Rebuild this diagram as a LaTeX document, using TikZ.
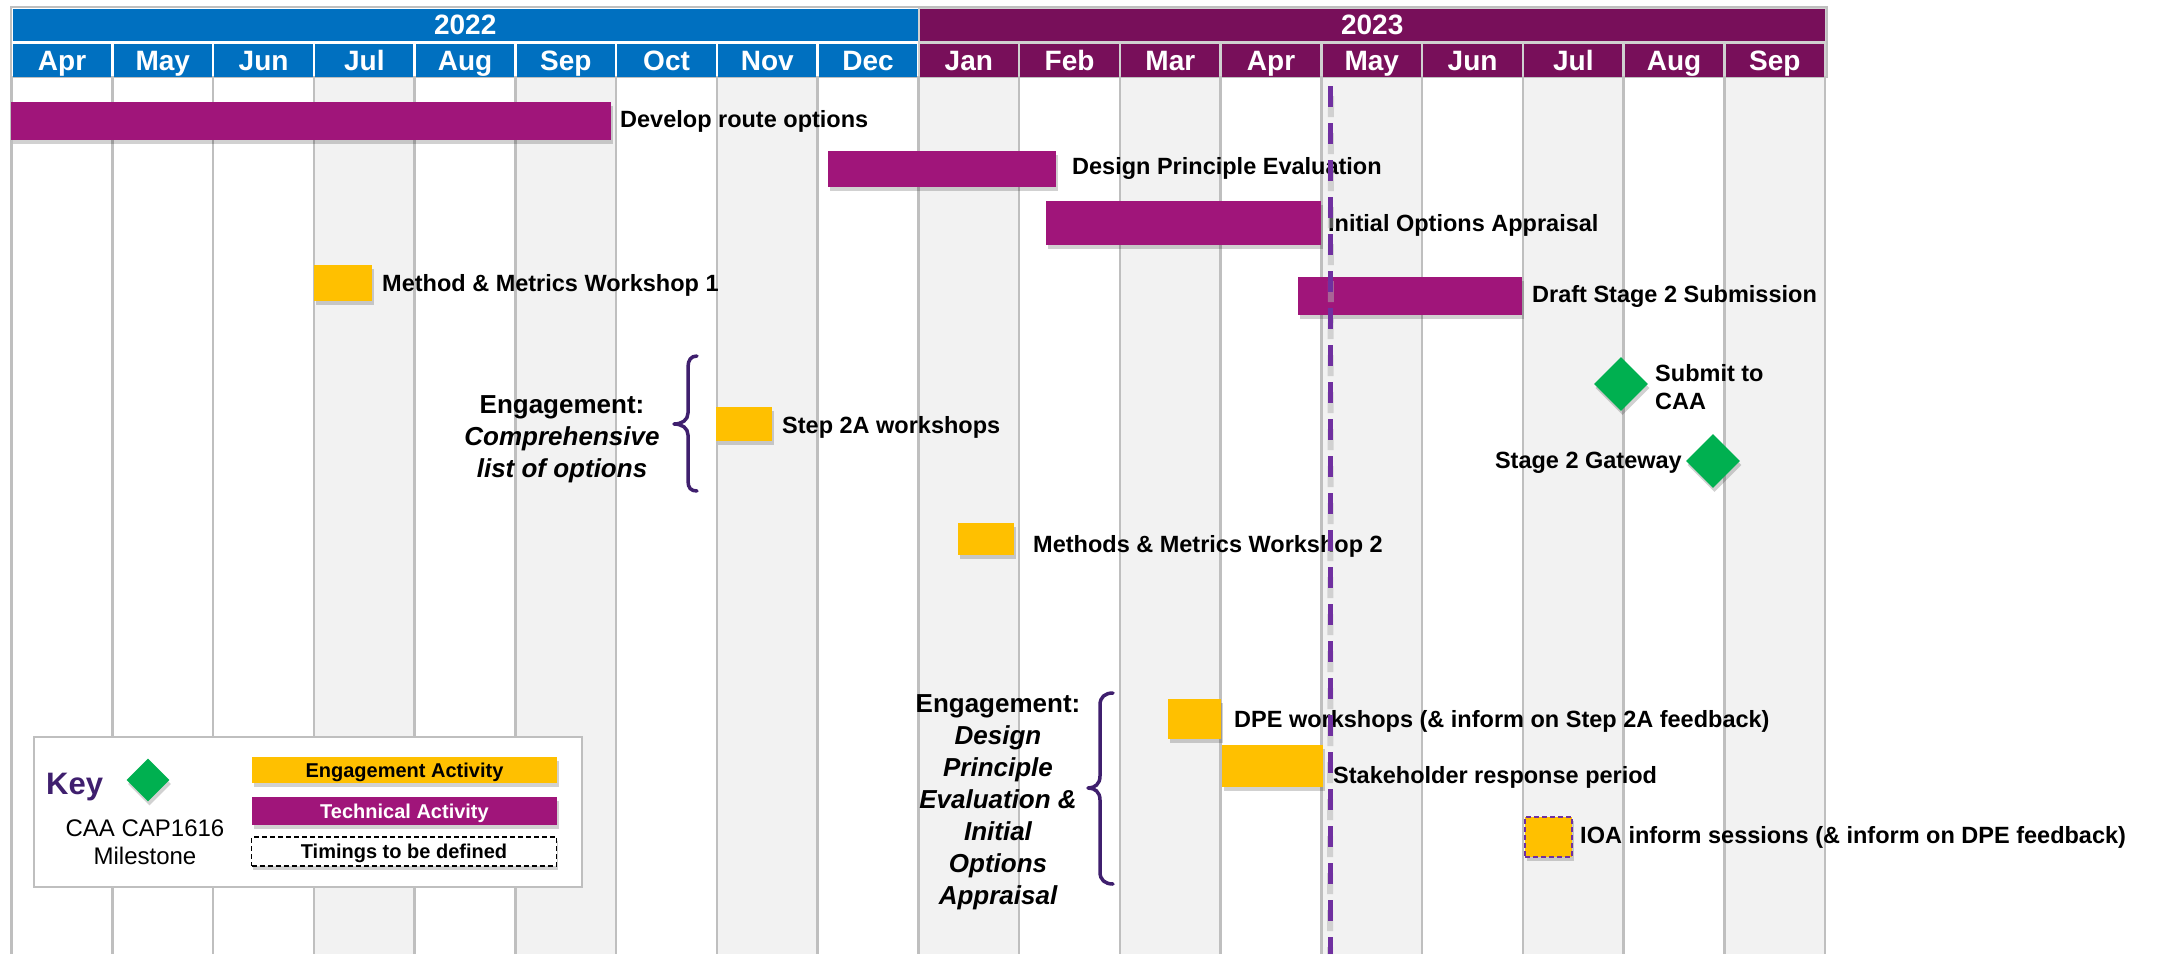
\documentclass[tikz,border=0pt]{standalone}
\usepackage{fontspec}
\setmainfont{Liberation Sans}
\usetikzlibrary{shadows,shapes.geometric}
\definecolor{hblue}{HTML}{0070C0}
\definecolor{hpurp}{HTML}{780F5A}
\definecolor{hsep}{HTML}{D0D0D0}
\definecolor{tech}{HTML}{A0157A}
\definecolor{eng}{HTML}{FFC000}
\definecolor{mile}{HTML}{00B050}
\definecolor{today}{HTML}{7030A0}
\definecolor{bracec}{HTML}{3F1F6E}
\definecolor{gridl}{HTML}{BFBFBF}
\definecolor{colg}{HTML}{F2F2F2}
\newcommand\fs[2]{\fontsize{#1}{#2}\selectfont}
\begin{document}
\begin{tikzpicture}[x=1pt,y=-1pt,
  shad/.style={drop shadow={shadow xshift=1.5pt,shadow yshift=-4pt,opacity=0.18,fill=black}},
  yearcell/.style={anchor=north west,inner sep=0,minimum width=905,minimum height=32.5,text=white,font=\fs{28}{32}\bfseries,text height=20pt,text depth=0pt},
  monthcell/.style={anchor=north west,inner sep=0,minimum width=98.25,minimum height=32.5,text=white,font=\fs{28}{32}\bfseries,text height=20pt,text depth=0pt},
  techbar/.style={fill=tech,draw=none,inner sep=0,anchor=north west,shad},
  engbox/.style={fill=eng,draw=none,inner sep=0,anchor=north west,shad},
  lbl/.style={anchor=west,inner sep=0,yshift=1.5pt,font=\fs{23.5}{28}\bfseries,text height=16.8pt,text depth=0pt},
  mlbl/.style={inner sep=0,font=\fs{23.5}{28}\bfseries},
  grouptxt/.style={anchor=north,inner sep=0,align=center,font=\fs{26}{32}\bfseries},
  mstone/.style={diamond,fill=mile,draw=none,inner sep=0,shad},
  keybar/.style={inner sep=0,minimum width=305,font=\fs{20}{23}\bfseries,text height=14.3pt,text depth=0pt,shad},
  bracestyle/.style={draw=bracec,line width=3.5,line cap=round,line join=round}]
\useasboundingbox (0,0) rectangle (2164,954);
\fill[white] (0,0) rectangle (2164,954);

% ---------- header ----------
\fill[gridl] (9.5,6) rectangle (1827.5,78);
\fill[white] (11.5,8) rectangle (918.25,76);
\fill[hsep] (918.25,8) rectangle (1825.5,76);
\node[yearcell,fill=hblue] (y2022) at (12.5,8.5) {2022};
\node[yearcell,fill=hpurp] (y2023) at (919.5,8.5) {2023};
\foreach \m [count=\i from 0] in {Apr,May,Jun,Jul,Aug,Sep,Oct,Nov,Dec,Jan,Feb,Mar,Apr,May,Jun,Jul,Aug,Sep} {
  \pgfmathsetmacro\xl{11.5+100.75*\i+1.25}
  \ifnum\i<9 \def\cc{hblue}\else\def\cc{hpurp}\fi
  \node[monthcell,fill=\cc] (mon\i) at (\xl,44) {\m};
}

% ---------- body grid ----------
\foreach \i in {3,5,7,9,11,13,15,17} {
  \pgfmathsetmacro\xl{11.5+100.75*\i}
  \fill[colg] (\xl,78) rectangle ++(100.75,876);
}
\foreach \i in {0,...,18} {
  \pgfmathsetmacro\xl{11.5+100.75*\i}
  \draw[gridl,line width=2.5] (\xl,76) -- (\xl,954);
}

% ---------- technical activities ----------
\node[techbar,minimum width=600,minimum height=38] (t1) at (11,102) {};
\node[lbl] (t1l) at (620,121) {Develop route options};
\node[techbar,minimum width=228,minimum height=36] (t2) at (828,151) {};
\node[lbl] (t2l) at (1072,168) {Design Principle Evaluation};
\node[techbar,minimum width=275,minimum height=44] (t3) at (1046,201) {};
\node[lbl] (t3l) at (1328,225) {Initial Options Appraisal};
\node[techbar,minimum width=224,minimum height=38] (t4) at (1298,277) {};
\node[lbl] (t4l) at (1532,296) {Draft Stage 2 Submission};

% ---------- engagement activities ----------
\node[engbox,minimum width=58,minimum height=36] (e1) at (314,265) {};
\node[lbl] (e1l) at (382,285) {Method \& Metrics Workshop 1};
\node[engbox,minimum width=56,minimum height=34] (e2) at (716,407) {};
\node[lbl] (e2l) at (782,427) {Step 2A workshops};
\node[engbox,minimum width=56,minimum height=32] (e3) at (958,523) {};
\node[lbl] (e3l) at (1033,546) {Methods \& Metrics Workshop 2};
\node[engbox,minimum width=53,minimum height=40] (e4) at (1168,699) {};
\node[lbl] (e4l) at (1234,721) {DPE workshops (\& inform on Step 2A feedback)};
\node[engbox,minimum width=101,minimum height=42] (e5) at (1222,745) {};
\node[lbl] (e5l) at (1333,777) {Stakeholder response period};
\node[engbox,draw=today,line width=2,dash pattern=on 5 off 3,minimum width=47,minimum height=40] (e6) at (1524,816) {};
\node[lbl] (e6l) at (1580,837) {IOA inform sessions (\& inform on DPE feedback)};

% ---------- milestones ----------
\node[mstone,minimum size=54] (m1) at (1621,384) {};
\node[mlbl,anchor=north west,align=left] (m1l) at (1655,364.5) {Submit to\\CAA};
\node[mstone,minimum size=54] (m2) at (1713,461) {};
\node[lbl,anchor=east] (m2l) at (1682,462) {Stage 2 Gateway};

% ---------- engagement groups ----------
\node[grouptxt] (g1) at (562,395) {Engagement:\\\itshape Comprehensive\\\itshape list of options};
\draw[bracestyle] (697,356) .. controls (691,356) and (688,360) .. (688,367) -- (688,413) .. controls (688,420) and (682,424) .. (674,424) .. controls (682,424) and (688,428) .. (688,435) -- (688,481) .. controls (688,488) and (691,491) .. (697,491);
\node[grouptxt] (g2) at (998,694) {Engagement:\\\itshape Design\\\itshape Principle\\\itshape Evaluation \&\\\itshape Initial\\\itshape Options\\\itshape Appraisal};
\draw[bracestyle] (1113,693) .. controls (1105,693) and (1100,697) .. (1100,705) -- (1100,776) .. controls (1100,784) and (1095,788) .. (1088,788) .. controls (1095,788) and (1100,792) .. (1100,800) -- (1100,872) .. controls (1100,880) and (1105,884) .. (1113,884);

% ---------- key ----------
\node[draw=gridl,line width=2,fill=white,inner sep=0,minimum width=548,minimum height=150,anchor=north west] (key) at (33,736) {};
\node[anchor=west,inner sep=0,font=\fs{31}{36}\bfseries,text=bracec,text height=22.2pt,text depth=0pt] (keyt) at (46,783) {Key};
\node[mstone,minimum size=43] (keyd) at (148,780) {};
\node[anchor=north,inner sep=0,align=center,font=\fs{24}{28}] (keym) at (145,820) {CAA CAP1616\\Milestone};
\node[keybar,fill=eng,minimum height=26] (keye) at (404.5,770) {Engagement Activity};
\node[keybar,fill=tech,text=white,minimum height=28] (keyt2) at (404.5,811) {Technical Activity};
\node[keybar,fill=white,draw=black,line width=1.5,dash pattern=on 5 off 3,minimum height=29] (keyx) at (404,851.5) {Timings to be defined};

% ---------- today line ----------
\coordinate (todaytop) at (1330,86);
\coordinate (todaybot) at (1330,954);
\coordinate (shtop) at (1331,96);
\draw[black!30,opacity=0.5,line width=6,dash pattern=on 21 off 16] (shtop) -- (todaybot);
\draw[today,line width=5,dash pattern=on 21 off 16] (todaytop) -- (todaybot);
\end{tikzpicture}
\end{document}
